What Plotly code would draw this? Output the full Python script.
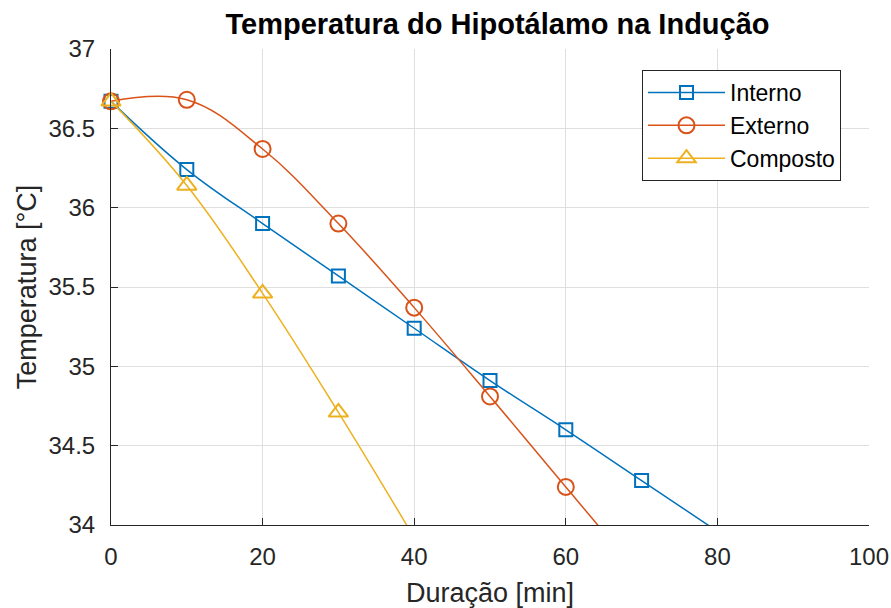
import plotly.graph_objects as go

# Hypothalamus temperature during induction, sampled every 10 minutes
minutos_interno = [0, 10, 20, 30, 40, 50, 60, 70, 80]
interno = [36.67, 36.24, 35.90, 35.57, 35.24, 34.91, 34.60, 34.28, 33.96]

minutos_externo = [0, 10, 20, 30, 40, 50, 60, 70]
externo = [36.67, 36.68, 36.37, 35.90, 35.37, 34.81, 34.24, 33.67]

minutos_composto = [0, 10, 20, 30, 40]
composto = [36.67, 36.14, 35.46, 34.71, 33.92]

x_ticks = [0, 20, 40, 60, 80, 100]
y_ticks = [34, 34.5, 35, 35.5, 36, 36.5, 37]
y_tick_labels = ["34", "34.5", "35", "35.5", "36", "36.5", "37"]

X_RANGE = [0, 100]
Y_RANGE = [34, 37]

FONT = "Arial, Liberation Sans, sans-serif"
AXIS_COLOR = "#262626"
GRID_COLOR = "#dfdfdf"

series = [
    ("Interno", minutos_interno, interno, "#0072BD", "square-open", 13),
    ("Externo", minutos_externo, externo, "#D95319", "circle-open", 16),
    ("Composto", minutos_composto, composto, "#EDB120", "triangle-up-open", 17),
]

fig = go.Figure()

for name, xs, ys, color, symbol, size in series:
    # smooth curve, clipped to the axes box
    fig.add_trace(go.Scatter(
        x=xs, y=ys, mode="lines", name=name, legendgroup=name,
        showlegend=False, hoverinfo="skip",
        line=dict(color=color, width=1.5, shape="spline", smoothing=1.1),
    ))
    # markers inside the axes limits, drawn unclipped so edge markers stay whole
    inside = [(x, y) for x, y in zip(xs, ys)
              if X_RANGE[0] <= x <= X_RANGE[1] and Y_RANGE[0] <= y <= Y_RANGE[1]]
    fig.add_trace(go.Scatter(
        x=[p[0] for p in inside], y=[p[1] for p in inside],
        mode="markers", name=name, legendgroup=name, showlegend=False,
        cliponaxis=False,
        marker=dict(symbol=symbol, size=size, color=color,
                    line=dict(color=color, width=2)),
    ))

# legend entries
for name, xs, ys, color, symbol, size in series:
    fig.add_trace(go.Scatter(
        x=[None], y=[None], mode="lines+markers", name=name, legendgroup=name,
        line=dict(color=color, width=1.5),
        marker=dict(symbol=symbol, size=size, color=color,
                    line=dict(color=color, width=2)),
    ))

W, H = 891, 608
L, R, T, B = 111, 22, 49, 83
plot_w = W - L - R
plot_h = H - T - B

fig.update_layout(
    width=W, height=H,
    margin=dict(l=L, r=R, t=T, b=B, pad=0, autoexpand=False),
    paper_bgcolor="white", plot_bgcolor="white",
    font=dict(family=FONT, color=AXIS_COLOR),
    title=dict(
        text="<b>Temperatura do Hipotálamo na Indução</b>",
        font=dict(family=FONT, size=29, color="black"),
        x=497.5 / W, xref="container", xanchor="center",
        y=1 - 14 / H, yref="container", yanchor="top",
    ),
    showlegend=True,
    legend=dict(
        x=(642 - L) / plot_w, y=1 - (70 - T) / plot_h,
        xanchor="left", yanchor="top",
        bgcolor="white", bordercolor=AXIS_COLOR, borderwidth=1,
        font=dict(family=FONT, size=23, color="black"),
        itemsizing="trace", itemwidth=77, tracegroupgap=0,
    ),
)

fig.update_xaxes(
    range=X_RANGE, tickvals=x_ticks, automargin=False,
    showgrid=True, gridcolor=GRID_COLOR, gridwidth=1, zeroline=False,
    showline=True, linecolor=AXIS_COLOR, linewidth=1, mirror=False,
    ticks="inside", ticklen=7, tickcolor=AXIS_COLOR, tickwidth=1,
    tickfont=dict(family=FONT, size=24, color=AXIS_COLOR),
    ticklabelstandoff=10,
    title=dict(text="Duração [min]", font=dict(family=FONT, size=27, color=AXIS_COLOR),
               standoff=16),
)

fig.update_yaxes(
    range=Y_RANGE, tickvals=y_ticks, ticktext=y_tick_labels, automargin=False,
    showgrid=True, gridcolor=GRID_COLOR, gridwidth=1, zeroline=False,
    showline=True, linecolor=AXIS_COLOR, linewidth=1, mirror=False,
    ticks="inside", ticklen=7, tickcolor=AXIS_COLOR, tickwidth=1,
    tickfont=dict(family=FONT, size=24, color=AXIS_COLOR),
    ticklabelstandoff=10,
    title=dict(text="Temperatura [°C]", font=dict(family=FONT, size=27, color=AXIS_COLOR),
               standoff=4),
)

fig.write_html("out.html")
